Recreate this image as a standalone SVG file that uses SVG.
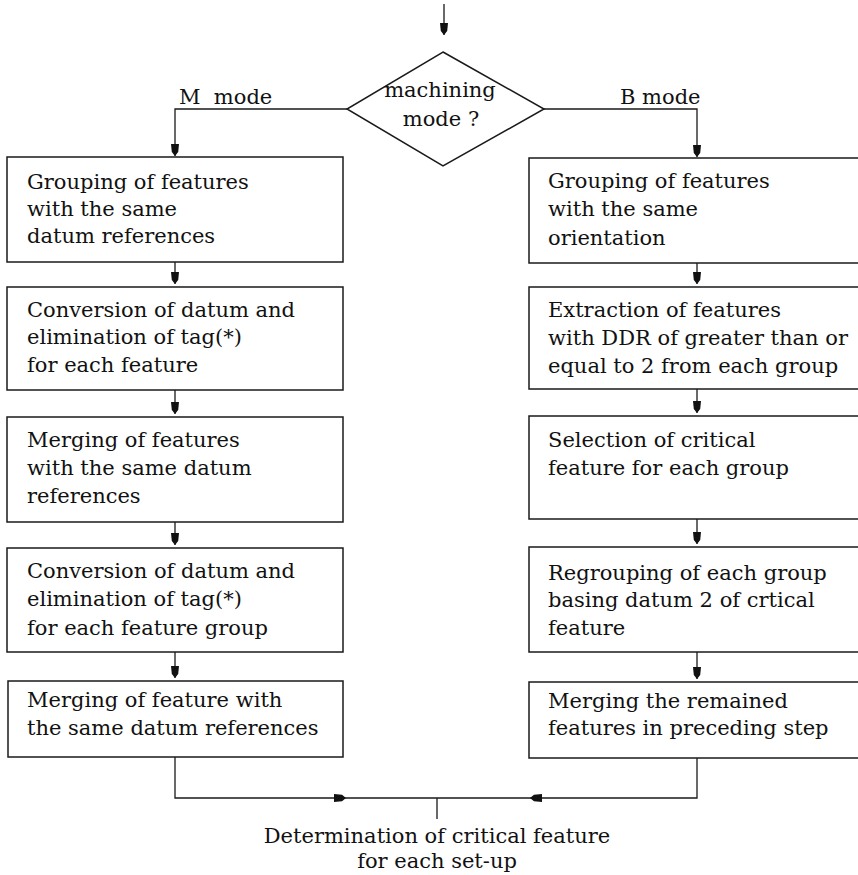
<svg xmlns="http://www.w3.org/2000/svg" width="858" height="875" viewBox="0 0 858 875">
<style>
.box{fill:#fff;stroke:#1a1a1a;stroke-width:1.5}
.ln{fill:none;stroke:#1a1a1a;stroke-width:1.3}
text{font-family:"DejaVu Serif","Liberation Serif",serif;font-size:21px;fill:#111}
.c{text-anchor:middle}
</style>
<defs>
<marker id="ah" markerUnits="userSpaceOnUse" markerWidth="14" markerHeight="10" refX="12" refY="0" viewBox="0 -5 14 10" orient="auto">
<path d="M0,-4 L8,-3.2 L12,0 L8,3.2 L0,4 Z" fill="#111"/>
</marker>
</defs>
<rect width="858" height="875" fill="#fff"/>
<g id="connectors">
<path class="ln" d="M444,4 V35" marker-end="url(#ah)"/>
<path class="ln" d="M347,109 H175 V156" marker-end="url(#ah)"/>
<path class="ln" d="M544,109 H697 V157" marker-end="url(#ah)"/>
<path class="ln" d="M175,262 V284" marker-end="url(#ah)"/>
<path class="ln" d="M175,390 V414" marker-end="url(#ah)"/>
<path class="ln" d="M175,522 V545" marker-end="url(#ah)"/>
<path class="ln" d="M175,652 V678" marker-end="url(#ah)"/>
<path class="ln" d="M697,263 V284" marker-end="url(#ah)"/>
<path class="ln" d="M697,389 V413" marker-end="url(#ah)"/>
<path class="ln" d="M697,519 V544" marker-end="url(#ah)"/>
<path class="ln" d="M697,652 V679" marker-end="url(#ah)"/>
<path class="ln" d="M175,757 V798 H346" marker-end="url(#ah)"/>
<path class="ln" d="M697,758 V798 H530" marker-end="url(#ah)"/>
<path class="ln" d="M346,798 H530 M437,798 V819"/>
</g>
<g id="decision">
<polygon class="box" points="443,52 544,109 443,166 347,109"/>
<text class="c" x="440" y="97">machining</text>
<text class="c" x="441" y="126">mode ?</text>
</g>
<g id="label-m"><text x="179" y="104">M&#160; mode</text></g>
<g id="label-b"><text x="620" y="104">B mode</text></g>
<g id="m1">
<rect class="box" x="7" y="157" width="336" height="105"/>
<text x="27" y="189">Grouping of features</text>
<text x="27" y="216">with the same</text>
<text x="27" y="243">datum references</text>
</g>
<g id="m2">
<rect class="box" x="7" y="287" width="336" height="103"/>
<text x="27" y="317">Conversion of datum and</text>
<text x="27" y="344">elimination of tag(*)</text>
<text x="27" y="372">for each feature</text>
</g>
<g id="m3">
<rect class="box" x="7" y="417" width="336" height="105"/>
<text x="27" y="447">Merging of features</text>
<text x="27" y="475">with the same datum</text>
<text x="27" y="503">references</text>
</g>
<g id="m4">
<rect class="box" x="7" y="548" width="336" height="104"/>
<text x="27" y="578">Conversion of datum and</text>
<text x="27" y="606">elimination of tag(*)</text>
<text x="27" y="635">for each feature group</text>
</g>
<g id="m5">
<rect class="box" x="8" y="681" width="335" height="76"/>
<text x="27" y="707">Merging of feature with</text>
<text x="27" y="735">the same datum references</text>
</g>
<g id="b1">
<rect class="box" x="529" y="158" width="340" height="105"/>
<text x="548" y="188">Grouping of features</text>
<text x="548" y="216">with the same</text>
<text x="548" y="245">orientation</text>
</g>
<g id="b2">
<rect class="box" x="529" y="287" width="340" height="102"/>
<text x="548" y="317">Extraction of features</text>
<text x="548" y="345">with DDR of greater than or</text>
<text x="548" y="373">equal to 2 from each group</text>
</g>
<g id="b3">
<rect class="box" x="529" y="416" width="340" height="103"/>
<text x="548" y="447">Selection of critical</text>
<text x="548" y="475">feature for each group</text>
</g>
<g id="b4">
<rect class="box" x="529" y="547" width="340" height="105"/>
<text x="548" y="580">Regrouping of each group</text>
<text x="548" y="607">basing datum 2 of crtical</text>
<text x="548" y="635">feature</text>
</g>
<g id="b5">
<rect class="box" x="529" y="682" width="340" height="76"/>
<text x="548" y="708">Merging the remained</text>
<text x="548" y="735">features in preceding step</text>
</g>
<g id="result">
<text class="c" x="437" y="843">Determination of critical feature</text>
<text class="c" x="437" y="868">for each set-up</text>
</g>
</svg>
